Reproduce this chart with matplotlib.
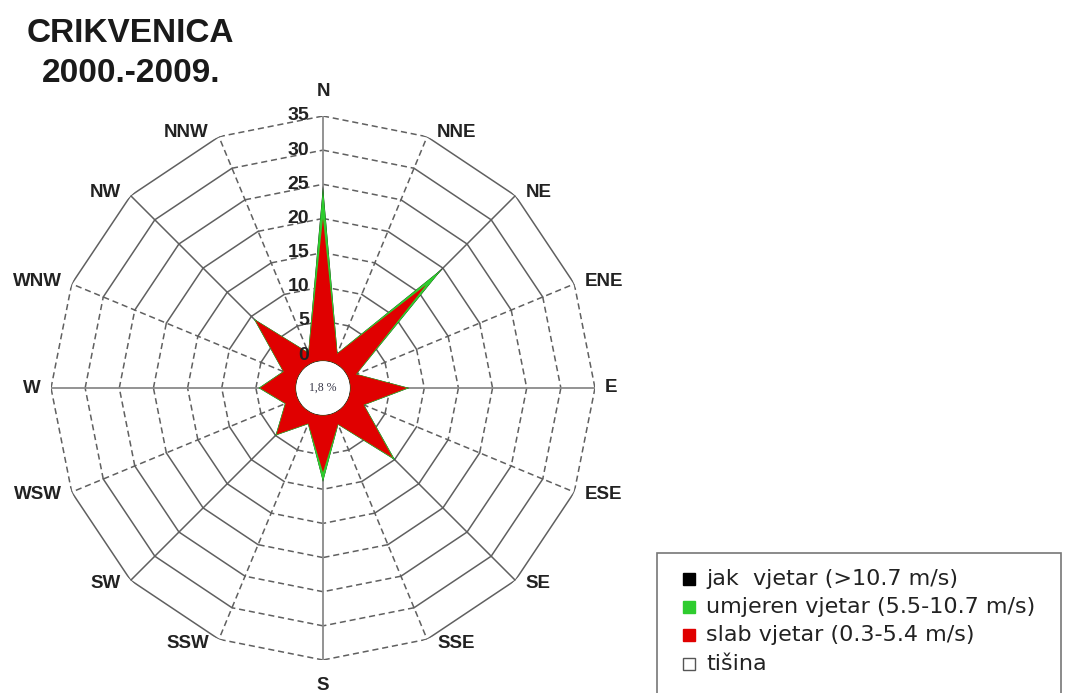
import numpy as np
import matplotlib.pyplot as plt
from matplotlib.patches import Rectangle

# ---------------- data ----------------
directions = ['N', 'NNE', 'NE', 'ENE', 'E', 'ESE', 'SE', 'SSE',
              'S', 'SSW', 'SW', 'WSW', 'W', 'WNW', 'NW', 'NNW']
slab = [20.0, 0.6, 16.5, 0.4, 7.5, 1.6, 9.6, 0.9,
        7.5, 0.8, 4.8, 1.1, 4.4, 1.4, 9.2, 0.7]          # 0.3-5.4 m/s
umjeren = [4.5, 0.1, 3.3, 0.1, 0.3, 0.1, 0.5, 0.1,
           1.4, 0.1, 0.2, 0.1, 0.2, 0.1, 0.3, 0.1]       # 5.5-10.7 m/s
jak = [0.3, 0.0, 0.2, 0.0, 0.0, 0.0, 0.0, 0.0,
       0.0, 0.0, 0.0, 0.0, 0.0, 0.0, 0.0, 0.0]           # >10.7 m/s
calm_pct = '1,8 %'
rings = [0, 5, 10, 15, 20, 25, 30, 35]

legend_labels = ['jak  vjetar (>10.7 m/s)', 'umjeren vjetar (5.5-10.7 m/s)',
                 'slab vjetar (0.3-5.4 m/s)', 'tišina']
colors = ['#000000', '#2ecc2e', '#e00000', '#ffffff']

GRID = '#606060'
W, H = 1065, 693

# ---------------- figure ----------------
fig = plt.figure(figsize=(W / 100, H / 100), dpi=100)
ax = fig.add_axes([51 / W, 33 / H, 544 / W, 544 / H], projection='polar')
ax.set_theta_zero_location('N')
ax.set_theta_direction(-1)
ax.set_rorigin(-4.83)
ax.set_ylim(-0.8, 35)
ax.grid(False)
ax.set_xticks([])
ax.set_yticks([])
for s in ax.spines.values():
    s.set_visible(False)

theta = np.deg2rad(np.arange(len(directions)) * 22.5)
n = len(theta)

# polygonal rings
for r in rings:
    for i in range(n):
        j = (i + 1) % n
        ls = (0, (4, 2.5)) if (i % 4 == 0 or j % 4 == 0) else '-'
        ax.plot([theta[i], theta[j]], [r, r], color=GRID, lw=1.1, ls=ls, zorder=1)

# spokes
for i, th in enumerate(theta):
    ls = '-' if i % 2 == 0 else (0, (4, 2.5))
    col = '#8a8a8a' if i % 4 == 0 else GRID
    ax.plot([th, th], [0, 35], color=col, lw=1.3 if i % 4 == 0 else 1.1, ls=ls, zorder=1)

# stacked wind rose (cumulative polygons)
c_red = np.array(slab)
c_green = c_red + np.array(umjeren)
c_black = c_green + np.array(jak)
th_c = np.append(theta, theta[0])
for vals, col in [(c_black, colors[0]), (c_green, colors[1]), (c_red, colors[2])]:
    ax.fill(th_c, np.append(vals, vals[0]), color=col, lw=0, zorder=3)

# direction labels
for th, lab in zip(theta, directions):
    s, c = np.sin(th), np.cos(th)
    if abs(s) < 0.1:
        off = (0, 24 if c > 0 else -25)
        ha = 'center'
    else:
        off = (10 * np.sign(s), 5 * c)
        ha = 'left' if s > 0 else 'right'
    ax.annotate(lab, xy=(th, 35), xytext=off, textcoords='offset pixels',
                ha=ha, va='center', fontsize=13.5, fontweight='bold',
                family='Liberation Sans', color='#222222', annotation_clip=False)

# radial labels along N axis
for r in rings:
    ax.annotate(str(r), xy=(0, r), xytext=(-14, 0), textcoords='offset pixels',
                ha='right', va='center', fontsize=14, fontweight='bold',
                family='Liberation Sans', color='#222222', annotation_clip=False,
                zorder=5)

# calm percentage in the centre
ax.text(0.5, 0.5, calm_pct, transform=ax.transAxes, ha='center', va='center',
        fontsize=8.5, family='Liberation Serif', color='#333344', zorder=6)

# title
fig.text(27 / W, 1 - 34 / H, 'CRIKVENICA', ha='left', va='center',
         fontsize=24, fontweight='bold', family='Liberation Sans', color='#1a1a1a')
fig.text(42 / W, 1 - 73 / H, '2000.-2009.', ha='left', va='center',
         fontsize=24, fontweight='bold', family='Liberation Sans', color='#1a1a1a')

# legend box
fig.patches.append(Rectangle((657 / W, -0.05), (1061 - 657) / W, 0.05 + (H - 553) / H,
                             transform=fig.transFigure, fill=False,
                             edgecolor='#777777', lw=1.2))
row_y = [579, 607, 635, 664]
for y, lab, col in zip(row_y, legend_labels, colors):
    fig.patches.append(Rectangle((683 / W, 1 - (y + 6) / H), 12 / W, 12 / H,
                                 transform=fig.transFigure, facecolor=col,
                                 edgecolor='#555555' if col == '#ffffff' else col,
                                 lw=1.0))
    fig.text(706 / W, 1 - y / H, lab, ha='left', va='center', fontsize=16,
             family='DejaVu Sans', color='#222222')

fig.savefig('out.png', dpi=100)
